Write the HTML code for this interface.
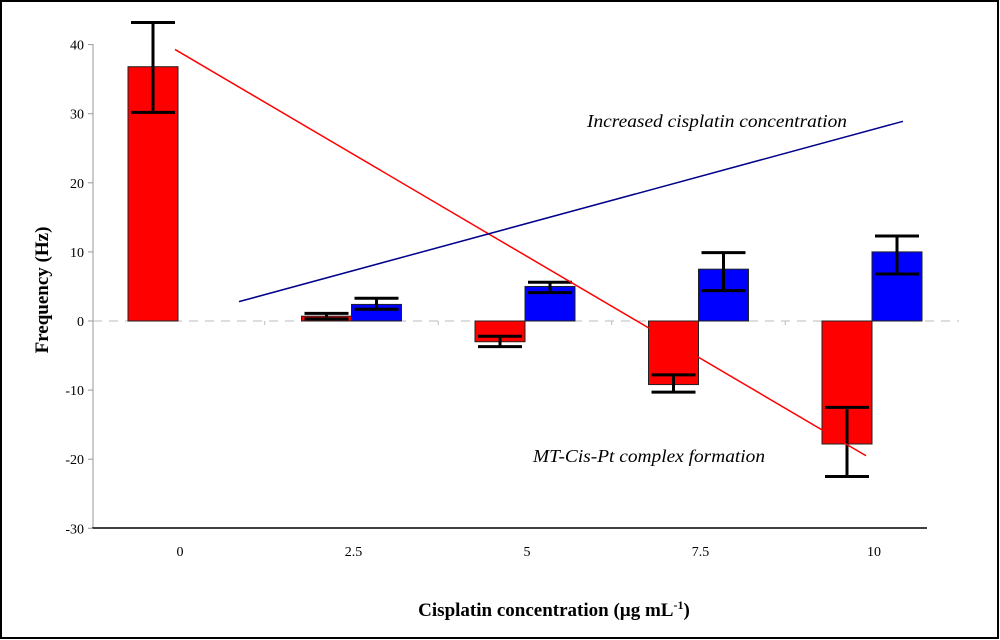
<!DOCTYPE html>
<html><head><meta charset="utf-8"><style>
body{margin:0;background:#fff}
svg{display:block;font-family:"Liberation Serif",serif}
</style></head><body>
<svg id="c" width="1000" height="640">
<rect x="1" y="1" width="997" height="637" fill="#fff" stroke="#000" stroke-width="2"/>
<g id="g"></g>
<text x="587" y="127" font-size="18" font-style="italic" textLength="260" lengthAdjust="spacingAndGlyphs">Increased cisplatin concentration</text>
<text x="533" y="462" font-size="18" font-style="italic" textLength="232" lengthAdjust="spacingAndGlyphs">MT-Cis-Pt complex formation</text>
<text x="48" y="290" font-size="19" font-weight="bold" text-anchor="middle" transform="rotate(-90 48 290)">Frequency (Hz)</text>
<text x="554" y="616" font-size="19" font-weight="bold" text-anchor="middle">Cisplatin concentration (µg mL<tspan dy="-7" font-size="12">-1</tspan><tspan dy="7">)</tspan></text>
</svg>
<script>
const categories=["0","2.5","5","7.5","10"];
const redVals=[36.8,0.7,-3.0,-9.2,-17.8];
const redLo=[30.2,0.3,-3.7,-10.3,-22.5];
const redHi=[43.2,1.1,-2.2,-7.8,-12.5];
const blueVals=[null,2.4,5.0,7.5,10.0];
const blueLo=[null,1.7,4.1,4.4,6.8];
const blueHi=[null,3.3,5.6,9.9,12.3];
const yTicks=[-30,-20,-10,0,10,20,30,40];
const redTrend=[39.3,-19.5];
const blueTrend=[2.8,28.9];
const NS="http://www.w3.org/2000/svg",g=document.getElementById('g');
const y=v=>321-v*6.91;
const xc=i=>178+i*173.5;
function mk(t,a){const e=document.createElementNS(NS,t);for(const k in a)e.setAttribute(k,a[k]);g.appendChild(e);return e;}
let e=mk('line',{x1:93,y1:44,x2:93,y2:528,stroke:'#999'});


e=mk('line',{x1:92,y1:528,x2:927,y2:528,stroke:'#000','stroke-width':1.5});


e=mk('line',{x1:93,y1:y(0),x2:959,y2:y(0),stroke:'#bbb','stroke-dasharray':'9 7'});


yTicks.forEach(v=>{
 let t=mk('line',{x1:88,y1:y(v),x2:93,y2:y(v),stroke:'#999'});
 
 
 t=mk('text',{x:84,y:y(v)+5,'font-size':14,'text-anchor':'end'});t.textContent=v;
 
 
});
categories.forEach((c,i)=>{
 let t=mk('text',{x:xc(i)+2,y:556,'font-size':14,'text-anchor':'middle'});t.textContent=c;
 
 
 if(i>0){t=mk('line',{x1:xc(i)-86.75,y1:y(0),x2:xc(i)-86.75,y2:y(0)+4,stroke:'#bbb'});
 
 }
});
function bar(i,v,lo,hi,col,off,nm){
 const x0=xc(i)+off;
 let r=mk('rect',{x:x0,y:Math.min(y(v),y(0)),width:50,height:Math.abs(y(v)-y(0)),fill:col,stroke:'#222'});
 
 
 const cx=x0+25;
 [[cx,y(lo),cx,y(hi)],[cx-22,y(lo),cx+22,y(lo)],[cx-22,y(hi),cx+22,y(hi)]].forEach(p=>{
  let l=mk('line',{x1:p[0],y1:p[1],x2:p[2],y2:p[3],stroke:'#000','stroke-width':3});
  
  
 });
}
categories.forEach((c,i)=>{
 bar(i,redVals[i],redLo[i],redHi[i],'#f00',-50,'bar-red-'+c);
 if(blueVals[i]!==null)bar(i,blueVals[i],blueLo[i],blueHi[i],'#00f',0,'bar-blue-'+c);
});
e=mk('line',{x1:175,y1:y(redTrend[0]),x2:866,y2:y(redTrend[1]),stroke:'#f00','stroke-width':1.5});


e=mk('line',{x1:239,y1:y(blueTrend[0]),x2:903,y2:y(blueTrend[1]),stroke:'#00008b','stroke-width':1.5});


</script>
</body></html>
